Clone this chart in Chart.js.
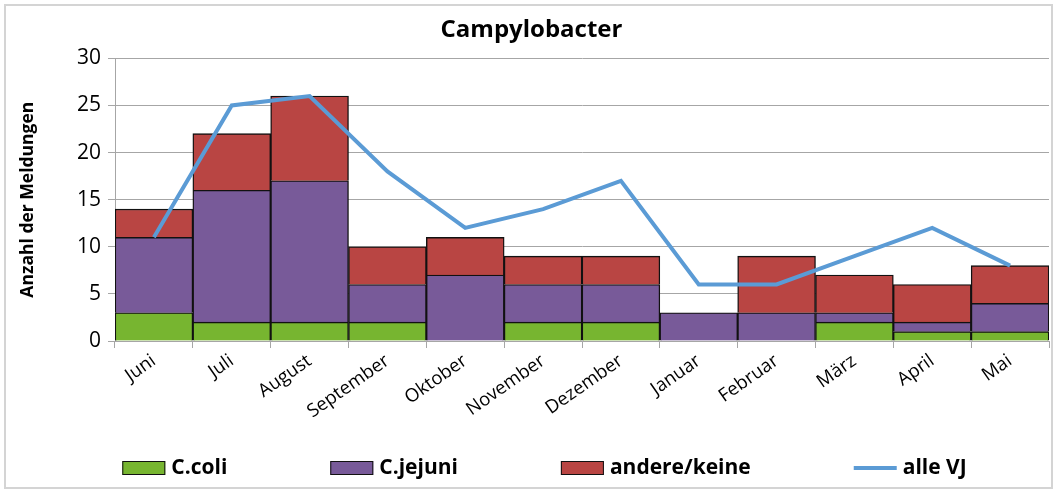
<!DOCTYPE html>
<html>
<head>
<meta charset="utf-8">
<script src="https://cdn.jsdelivr.net/npm/chart.js@4/dist/chart.umd.min.js"></script>
<style>
  html, body { margin: 0; padding: 0; background: #fff; }
  #wrap { position: relative; width: 1057px; height: 490px; }
</style>
</head>
<body>
<div id="wrap"><canvas id="chart" width="1057" height="490"></canvas></div>
<script>
// Werte
const months = ['Juni','Juli','August','September','Oktober','November','Dezember','Januar','Februar','März','April','Mai'];
const cColi = [3, 2, 2, 2, 0, 2, 2, 0, 0, 2, 1, 1];
const cJejuni = [8, 14, 15, 4, 7, 4, 4, 3, 3, 1, 1, 3];
const andere = [3, 6, 9, 4, 4, 3, 3, 0, 6, 4, 4, 4];
const alleVJ = [11, 25, 26, 18, 12, 14, 17, 6, 6, 9, 12, 8];
const yTicks = [0, 5, 10, 15, 20, 25, 30];

const FONT = "'Open Sans', 'DejaVu Sans', sans-serif";
const GRID = '#a6a6a6';

// Rahmen um das ganze Diagramm
const frame = {
    id: 'frame',
    afterDraw(chart) {
        const ctx = chart.ctx;
        ctx.save();
        ctx.strokeStyle = '#d4d4d4';
        ctx.lineWidth = 2;
        ctx.strokeRect(5, 5, 1047, 483);
        ctx.restore();
    }
};

// Legende wie im Original: feste Abstaende zwischen den Eintraegen
const spreadLegend = {
    id: 'spreadLegend',
    afterDraw(chart) {
        const ctx = chart.ctx;
        const boxW = 43, boxH = 14, gap = 103, textGap = 6;
        const y = 468;
        ctx.save();
        ctx.font = "bold 21px " + FONT;
        ctx.textBaseline = 'middle';
        const items = chart.data.datasets.map(ds => ({
            label: ds.label,
            isLine: ds.type === 'line',
            color: ds.type === 'line' ? ds.borderColor : ds.backgroundColor,
            w: boxW + textGap + ctx.measureText(ds.label).width
        }));
        const total = items.reduce((s, it) => s + it.w, 0) + gap * (items.length - 1);
        let x = (chart.width - total) / 2 + 16;
        items.forEach(it => {
            if (it.isLine) {
                ctx.strokeStyle = it.color;
                ctx.lineWidth = 4;
                ctx.beginPath();
                ctx.moveTo(x, y);
                ctx.lineTo(x + boxW, y);
                ctx.stroke();
            } else {
                ctx.fillStyle = it.color;
                ctx.fillRect(x, y - boxH / 2, boxW, boxH);
                ctx.strokeStyle = '#111';
                ctx.lineWidth = 1;
                ctx.strokeRect(x + 0.5, y - boxH / 2 + 0.5, boxW - 1, boxH - 1);
            }
            ctx.fillStyle = '#000';
            ctx.fillText(it.label, x + boxW + textGap, y);
            x += it.w + gap;
        });
        ctx.restore();
    }
};

const barStyle = { borderColor: '#111', borderWidth: 1.4, barPercentage: 1, categoryPercentage: 1, stack: 'meldungen', order: 1 };

new Chart(document.getElementById('chart'), {
    type: 'bar',
    data: {
        labels: months,
        datasets: [
            Object.assign({ label: 'C.coli', data: cColi, backgroundColor: '#77b530' }, barStyle),
            Object.assign({ label: 'C.jejuni', data: cJejuni, backgroundColor: '#785a99' }, barStyle),
            Object.assign({ label: 'andere/keine', data: andere, backgroundColor: '#b94543' }, barStyle),
            {
                type: 'line', label: 'alle VJ', data: alleVJ, stack: 'vj', order: 0,
                borderColor: '#5b9bd5', borderWidth: 4, pointRadius: 0, tension: 0, fill: false
            }
        ]
    },
    options: {
        responsive: false,
        animation: false,
        layout: { padding: { left: 14, right: 8, top: 0, bottom: 0 } },
        plugins: {
            legend: { display: false },
            tooltip: { enabled: false },
            title: {
                display: true,
                text: 'Campylobacter',
                color: '#000',
                font: { family: FONT, size: 24, weight: 'bold' },
                padding: { top: 16, bottom: 13.5 }
            }
        },
        scales: {
            x: {
                stacked: true,
                grid: { display: true, drawOnChartArea: false, offset: true, color: GRID, tickLength: 7 },
                border: { color: GRID },
                ticks: {
                    autoSkip: false, maxRotation: 35, minRotation: 35, color: '#000', padding: 2,
                    font: { family: FONT, size: 18.5 }
                },
                afterFit(scale) { scale.height = 149; }
            },
            y: {
                stacked: true,
                min: 0, max: 30,
                afterBuildTicks(scale) { scale.ticks = yTicks.map(v => ({ value: v })); },
                grid: { color: GRID, tickLength: 7 },
                border: { color: GRID },
                ticks: { color: '#000', padding: 7, font: { family: FONT, size: 21 } },
                title: {
                    display: true,
                    text: 'Anzahl der Meldungen',
                    color: '#000',
                    font: { family: FONT, size: 17.5, weight: 'bold' }
                },
                afterFit(scale) { scale.width = 101; }
            }
        }
    },
    plugins: [frame, spreadLegend]
});
</script>
</body>
</html>
